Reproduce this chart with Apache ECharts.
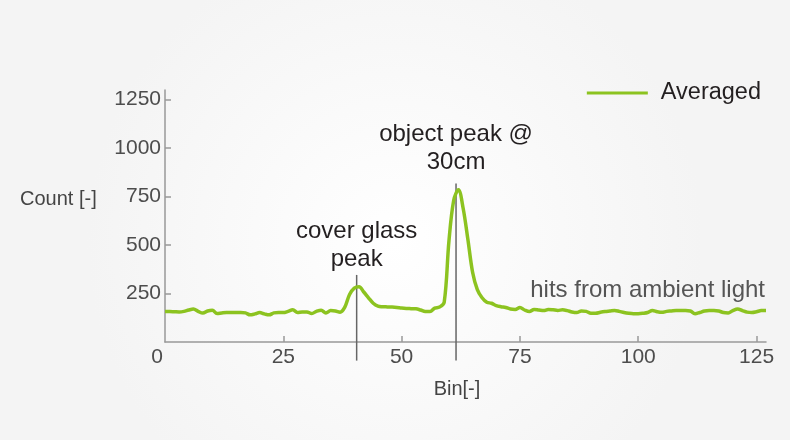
<!DOCTYPE html>
<html><head><meta charset="utf-8">
<script src="https://cdn.jsdelivr.net/npm/echarts@6/dist/echarts.min.js"></script>
<style>html,body{margin:0;padding:0;background:#f7f7f7}#c{width:790px;height:440px}</style>
</head><body><div id="c"></div>
<script>
// Averaged counts per bin (bins 0..127)
const counts = [
157,157,156,155,158,165,170,158,149,160,
164,147,150,152,152,152,152,150,140,145,
152,145,140,150,152,152,158,166,152,155,
155,147,158,164,150,162,160,154,180,245,
278,285,258,228,200,185,182,181,180,178,
175,173,172,171,165,157,157,175,180,205,
520,730,785,690,530,360,270,228,205,200,
188,182,178,170,168,178,165,157,168,165,
162,168,166,163,166,162,155,152,160,158,
148,148,153,157,160,163,158,152,148,146,
146,148,152,162,156,153,158,160,162,162,
162,160,146,152,160,163,163,160,152,150,
162,170,162,154,152,156,162,162
];
const yTicks = [250, 500, 750, 1000, 1250];
const xTicks = [25, 50, 75, 100, 125];
const xLabels = [0, 25, 50, 75, 100, 125];
const coverMarker = [[40.5, -96], [40.5, 346]];
const objectMarker = [[61.5, -96], [61.5, 818]];
const coverText = 'cover glass\npeak';
const objectText = 'object peak @\n30cm';
const ambientText = 'hits from ambient light';
const seriesName = 'Averaged';
const xName = 'Bin[-]';
const yName = 'Count [-]';

const FONT = "'Liberation Sans', Arial, sans-serif";
const GREEN = '#8cc320';

const chart = echarts.init(document.getElementById('c'), null, {renderer: 'canvas'});

function markerSeries(pts, text, dist) {
  return {
    type: 'line',
    data: pts,
    symbol: 'none',
    clip: false,
    silent: true,
    lineStyle: {color: '#666', width: 1.5},
    z: 1,
    markPoint: {
      symbol: 'circle',
      symbolSize: 2,
      itemStyle: {color: 'rgba(0,0,0,0)'},
      data: [{coord: pts[1], value: 0}],
      label: {
        show: true,
        position: 'top',
        distance: dist,
        formatter: () => text,
        color: '#231f20',
        fontFamily: FONT,
        fontSize: 24,
        lineHeight: 28,
        align: 'center'
      }
    }
  };
}

chart.setOption({
  backgroundColor: {
    type: 'radial', x: 0.5, y: 0.55, r: 0.7,
    colorStops: [{offset: 0, color: '#ffffff'}, {offset: 1, color: '#f4f4f4'}]
  },
  animation: false,
  grid: {left: 165, right: 24, top: 90, bottom: 98},
  legend: {
    data: [seriesName],
    right: 24, top: 76,
    icon: 'rect',
    itemWidth: 61, itemHeight: 3, itemGap: 10,
    textStyle: {color: '#231f20', fontFamily: FONT, fontSize: 23.5, padding: [0, 0, 0, 8]}
  },
  xAxis: {
    type: 'value', min: 0, max: 127,
    splitLine: {show: false},
    axisLine: {lineStyle: {color: '#999', width: 1.5}},
    axisTick: {show: true, inside: true, length: 6, customValues: xTicks, lineStyle: {color: '#999', width: 1.5}},
    axisLabel: {
      customValues: xLabels, margin: 5,
      color: '#4d4d4d', fontFamily: FONT, fontSize: 21,
      formatter: v => v === 0 ? '{z|0}' : String(v),
      rich: {z: {padding: [0, 16, 0, 0], color: '#4d4d4d', fontFamily: FONT, fontSize: 21}}
    }
  },
  yAxis: {
    type: 'value', min: 0, max: 1300,
    splitLine: {show: false},
    axisLine: {show: true, lineStyle: {color: '#999', width: 1.5}},
    axisTick: {show: true, inside: true, length: 6, customValues: yTicks, lineStyle: {color: '#999', width: 1.5}},
    axisLabel: {customValues: yTicks, margin: 4, color: '#4d4d4d', fontFamily: FONT, fontSize: 21, formatter: v => String(v)}
  },
  graphic: [
    {type: 'text', left: 20, top: 189, style: {text: yName, fill: '#444', font: '20px ' + FONT}},
    {type: 'text', x: 457, y: 389, style: {text: xName, fill: '#444', font: '20px ' + FONT, textAlign: 'center', textVerticalAlign: 'middle'}},
    {type: 'text', right: 25, top: 278, style: {text: ambientText, fill: '#555', font: '24px ' + FONT}}
  ],
  series: [
    {
      name: seriesName,
      type: 'line',
      data: counts.map((v, i) => [i, v]),
      symbol: 'none',
      smooth: 0.35,
      lineStyle: {color: GREEN, width: 3.5},
      itemStyle: {color: GREEN},
      z: 3
    },
    markerSeries(coverMarker, coverText, 1),
    markerSeries(objectMarker, objectText, 6)
  ]
});
</script></body></html>
